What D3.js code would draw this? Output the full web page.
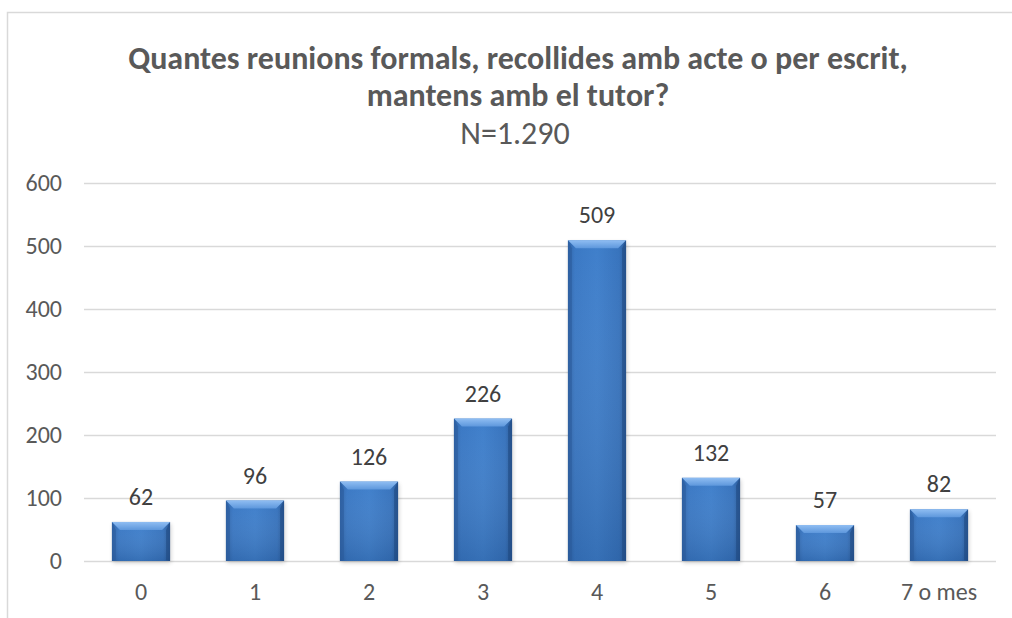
<!DOCTYPE html>
<html>
<head>
<meta charset="utf-8">
<script src="https://cdn.jsdelivr.net/npm/d3@7"></script>
<style>
  html, body { margin: 0; padding: 0; background: #fff; }
  svg { display: block; }
</style>
</head>
<body>
<svg id="chart" width="1012" height="618"></svg>
<script>
// Number of formal meetings with the tutor
const categories = ["0", "1", "2", "3", "4", "5", "6", "7 o mes"];
const counts = [62, 96, 126, 226, 509, 132, 57, 82];
const yTicks = [0, 100, 200, 300, 400, 500, 600];
const titleLines = ["Quantes reunions formals, recollides amb acte o per escrit,", "mantens amb el tutor?"];
const subtitle = "N=1.290";

const W = 1012, H = 618;
const margin = { left: 84, right: 16, top: 183, bottom: 57 };
const svg = d3.select("#chart");
const font = "Carlito, Calibri, 'Liberation Sans', sans-serif";

// chart frame
svg.append("rect").attr("x", 7.5).attr("y", 12.5).attr("width", W).attr("height", H)
  .attr("fill", "#fff").attr("stroke", "#d9d9d9").attr("stroke-width", 1.5);

const x = d3.scaleBand().domain(categories).range([margin.left, W - margin.right]).paddingInner(0.49).paddingOuter(0.245);
const y = d3.scaleLinear().domain([0, 600]).range([H - margin.bottom, margin.top]);

// gradients
const defs = svg.append("defs");
const g = defs.append("linearGradient").attr("id", "barGrad").attr("x1", 0).attr("x2", 1).attr("y1", 0).attr("y2", 0);
[["0%", "#2f64a8"], ["12%", "#3a78c4"], ["50%", "#3f7fcb"], ["88%", "#3773bd"], ["100%", "#2a5a98"]]
  .forEach(([o, c]) => g.append("stop").attr("offset", o).attr("stop-color", c));
const gv = defs.append("linearGradient").attr("id", "barShade").attr("x1", 0).attr("x2", 0).attr("y1", 0).attr("y2", 1);
[["0%", "#ffffff", 0], ["100%", "#0b2a55", 0.18]]
  .forEach(([o, c, a]) => gv.append("stop").attr("offset", o).attr("stop-color", c).attr("stop-opacity", a));
const topGrad = defs.append("linearGradient").attr("id", "topGrad").attr("x1", 0).attr("x2", 0).attr("y1", 0).attr("y2", 1);
[["0%", "#8fbdf2"], ["100%", "#5d97dc"]].forEach(([o, c]) => topGrad.append("stop").attr("offset", o).attr("stop-color", c));
const blur = defs.append("filter").attr("id", "shadow").attr("x", "-20%").attr("y", "-20%").attr("width", "140%").attr("height", "140%");
blur.append("feGaussianBlur").attr("stdDeviation", 2);

// gridlines
svg.append("g").selectAll("line").data(yTicks).join("line")
  .attr("x1", margin.left).attr("x2", W - margin.right)
  .attr("y1", d => Math.round(y(d)) + 0.5).attr("y2", d => Math.round(y(d)) + 0.5)
  .attr("stroke", "#d9d9d9").attr("stroke-width", 1.5);

// y axis labels
const yAxis = d3.axisLeft(y).tickValues(yTicks).tickSize(0).tickPadding(0);
svg.append("g").attr("transform", `translate(${margin.left - 22},0)`).call(yAxis)
  .call(s => s.select(".domain").remove())
  .selectAll("text").attr("font-family", font).attr("font-size", 24).attr("fill", "#595959");

// x axis labels
const xAxis = d3.axisBottom(x).tickSize(0).tickPadding(0);
svg.append("g").attr("transform", `translate(0,${y(0) + 22})`).call(xAxis)
  .call(s => s.select(".domain").remove())
  .selectAll("text").attr("font-family", font).attr("font-size", 24).attr("fill", "#595959");

// bars
const bars = svg.append("g").selectAll("g").data(categories.map((c, i) => ({ c, v: counts[i] }))).join("g");
const bw = x.bandwidth();
bars.append("rect").attr("x", d => x(d.c) + 1).attr("y", d => y(d.v) + 2)
  .attr("width", bw).attr("height", d => y(0) - y(d.v)).attr("fill", "#000").attr("opacity", 0.18)
  .attr("filter", "url(#shadow)");
bars.append("rect").attr("x", d => x(d.c)).attr("y", d => y(d.v))
  .attr("width", bw).attr("height", d => y(0) - y(d.v)).attr("fill", "url(#barGrad)");
bars.append("rect").attr("x", d => x(d.c)).attr("y", d => y(d.v))
  .attr("width", bw).attr("height", d => y(0) - y(d.v)).attr("fill", "url(#barShade)");
// bevel: top facet
const bev = 8;
bars.append("path").attr("d", d => {
  const x0 = x(d.c), x1 = x0 + bw, t = y(d.v);
  return `M${x0},${t}L${x1},${t}L${x1 - bev},${t + bev}L${x0 + bev},${t + bev}Z`;
}).attr("fill", "url(#topGrad)");
// bevel: side facets
bars.append("path").attr("d", d => {
  const x0 = x(d.c), t = y(d.v), b = y(0);
  return `M${x0},${t}L${x0 + bev * 0.5},${t + bev}L${x0 + bev * 0.5},${b - 1}L${x0},${b}Z`;
}).attr("fill", "#2b5c9c").attr("opacity", 0.6);
bars.append("path").attr("d", d => {
  const x1 = x(d.c) + bw, t = y(d.v), b = y(0);
  return `M${x1},${t}L${x1 - bev * 0.5},${t + bev}L${x1 - bev * 0.5},${b - 1}L${x1},${b}Z`;
}).attr("fill", "#1f4a82").attr("opacity", 0.6);

// value labels
bars.append("text").attr("x", d => x(d.c) + bw / 2).attr("y", d => y(d.v) - 17)
  .attr("text-anchor", "middle").attr("font-family", font).attr("font-size", 24)
  .attr("fill", "#404040").text(d => d.v);

// title
const cx = 518;
svg.append("text").attr("x", cx).attr("y", 69).attr("text-anchor", "middle")
  .attr("font-family", font).attr("font-weight", "bold").attr("font-size", 32).attr("fill", "#595959")
  .text(titleLines[0]);
svg.append("text").attr("x", cx).attr("y", 106).attr("text-anchor", "middle")
  .attr("font-family", font).attr("font-weight", "bold").attr("font-size", 32).attr("fill", "#595959")
  .text(titleLines[1]);
svg.append("text").attr("x", cx - 3).attr("y", 144).attr("text-anchor", "middle")
  .attr("font-family", font).attr("font-size", 32).attr("fill", "#595959")
  .text(subtitle);
</script>
</body>
</html>
